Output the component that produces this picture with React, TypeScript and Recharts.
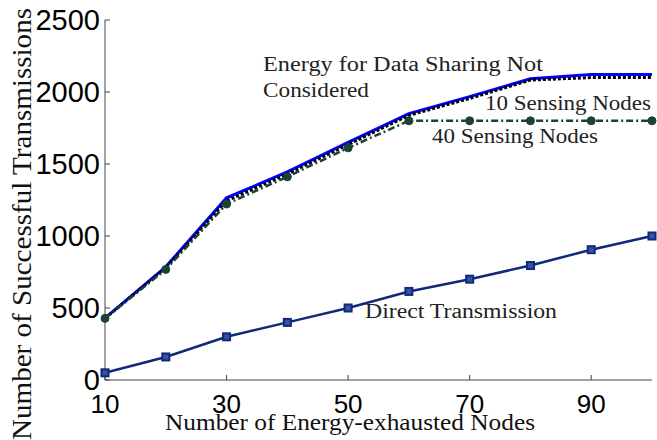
import { LineChart, Line, XAxis, YAxis } from "recharts";

// number of energy-exhausted nodes
const nodes = [10, 20, 30, 40, 50, 60, 70, 80, 90, 100];
// successful transmissions per scheme
const noEnergy = [430, 786, 1265, 1445, 1650, 1850, 1968, 2092, 2122, 2122];
const tenSensing = [428, 780, 1245, 1430, 1635, 1838, 1955, 2083, 2100, 2100];
const fortySensing = [428, 768, 1222, 1411, 1612, 1800, 1800, 1800, 1800, 1800];
const direct = [50, 160, 300, 400, 500, 615, 700, 795, 905, 1000];

const xTicks = [10, 30, 50, 70, 90];
const yTicks = [0, 500, 1000, 1500, 2000, 2500];

const data = nodes.map((n, i) => ({
  n,
  noEnergy: noEnergy[i],
  tenSensing: tenSensing[i],
  fortySensing: fortySensing[i],
  direct: direct[i],
}));

const serif = "'Liberation Serif', 'DejaVu Serif', serif";
const sans = "'Liberation Sans', Arial, sans-serif";
const axisColor = "#444";

const SquareDot = (props: any) => {
  const { cx, cy, index } = props;
  if (cx == null || cy == null) return null;
  return (
    <rect
      key={"sq" + index}
      x={cx - 3.5}
      y={cy - 3.5}
      width={7}
      height={7}
      fill="#3552a5"
      stroke="#0f2a7a"
      strokeWidth={2}
    />
  );
};

const Note = ({ x, y, w, children }: any) => (
  <text
    x={x}
    y={y}
    fontFamily={serif}
    fontSize={20}
    fill="#222"
    textLength={w}
    lengthAdjust="spacingAndGlyphs"
  >
    {children}
  </text>
);

export default function App() {
  return (
    <div style={{ position: "absolute", left: 0, top: 0, background: "#fff" }}>
      <LineChart
        width={657}
        height={440}
        data={data}
        margin={{ top: 20, right: 5, left: 0, bottom: 0 }}
      >
        <XAxis
          dataKey="n"
          type="number"
          domain={[10, 100]}
          ticks={xTicks}
          interval={0}
          height={60}
          stroke={axisColor}
          tickSize={-5}
          tickMargin={20}
          tick={{ fill: "#000", fontSize: 26, fontFamily: sans }}
        />
        <YAxis
          type="number"
          domain={[0, 2500]}
          ticks={yTicks}
          interval={0}
          width={105}
          stroke={axisColor}
          tickSize={-5}
          tickMargin={10}
          tick={{ fill: "#000", fontSize: 29, fontFamily: sans }}
        />
        <Line
          dataKey="noEnergy"
          stroke="#0000ff"
          strokeWidth={3}
          dot={false}
          isAnimationActive={false}
        />
        <Line
          dataKey="tenSensing"
          stroke="#000"
          strokeWidth={3}
          strokeDasharray="3 2"
          dot={false}
          isAnimationActive={false}
        />
        <Line
          dataKey="fortySensing"
          stroke="#1b4332"
          strokeWidth={2.5}
          strokeDasharray="7 3 2 3"
          dot={{ r: 4, fill: "#1b4332", stroke: "#1b4332", strokeWidth: 1, strokeDasharray: "" }}
          isAnimationActive={false}
        />
        <Line
          dataKey="direct"
          stroke="#0f2a7a"
          strokeWidth={2.5}
          dot={SquareDot}
          isAnimationActive={false}
        />
        <Note x={263} y={71} w={280}>Energy for Data Sharing Not</Note>
        <Note x={263} y={97} w={106}>Considered</Note>
        <Note x={485} y={110} w={166}>10 Sensing Nodes</Note>
        <Note x={432} y={143} w={166}>40 Sensing Nodes</Note>
        <Note x={365} y={318} w={192}>Direct Transmission</Note>
        <text
          x={350}
          y={430}
          textAnchor="middle"
          fontFamily={serif}
          fontSize={23}
          fill="#111"
          textLength={370}
          lengthAdjust="spacingAndGlyphs"
        >
          Number of Energy-exhausted Nodes
        </text>
        <text
          x={31}
          y={224}
          transform="rotate(-90 31 224)"
          textAnchor="middle"
          fontFamily={serif}
          fontSize={28}
          fill="#111"
          textLength={432}
          lengthAdjust="spacingAndGlyphs"
        >
          Number of Successful Transmissions
        </text>
      </LineChart>
    </div>
  );
}
